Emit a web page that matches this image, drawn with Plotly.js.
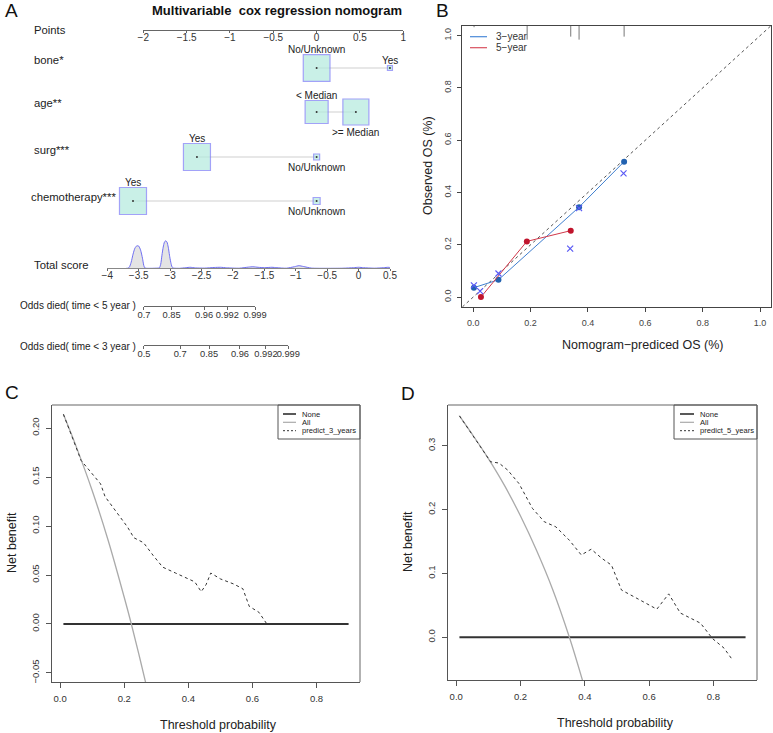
<!DOCTYPE html>
<html><head><meta charset="utf-8">
<script src="https://cdn.plot.ly/plotly-3.0.1.min.js"></script>
<style>html,body{margin:0;padding:0;background:#fff}#chart{width:773px;height:733px}</style>
</head><body><div id="chart"></div>
<script>
// ================= DATA =================
// Panel A: nomogram
const variables = ['bone*', 'age**', 'surg***', 'chemotherapy***'];
const levelNames = [['No/Unknown', 'Yes'], ['< Median', '>= Median'], ['Yes', 'No/Unknown'], ['Yes', 'No/Unknown']];
const levelPoints = [[0, 0.846], [0, 0.453], [-1.381, 0], [-2.119, 0]];
const levelCounts = [[713, 25], [529, 676], [729, 36], [729, 49]];
const levelLabelSide = [['above', 'above'], ['above', 'below'], ['above', 'below'], ['above', 'below']];
const pointsTicks = [-2, -1.5, -1, -0.5, 0, 0.5, 1];
const totalScoreTicks = [-4, -3.5, -3, -2.5, -2, -1.5, -1, -0.5, 0, 0.5];
const densityScore = [-3.70, -3.68, -3.65, -3.62, -3.59, -3.56, -3.53, -3.50, -3.47, -3.44, -3.42, -3.40, -3.30, -3.20,
  -3.17, -3.15, -3.13, -3.11, -3.09, -3.07, -3.05, -3.03, -3.01, -2.99, -2.97, -2.95,
  -2.85, -2.75, -2.68, -2.60, -2.45, -2.30, -2.20, -2.10, -1.90, -1.75, -1.68, -1.60, -1.50, -1.38, -1.30, -1.15,
  -1.02, -0.95, -0.88, -0.75, -0.50, -0.25, -0.08, 0.0, 0.08, 0.25, 0.40, 0.47, 0.52, 0.58];
const densityHeight = [0, 0, 1, 6, 14, 20, 22.3, 22, 18, 10, 3, 0.3, 0, 0.2,
  0.5, 4, 13, 21, 26, 27.3, 26, 21, 13, 6, 1.5, 0.3,
  0, 0.6, 1.0, 0.4, 0.2, 0.8, 1.0, 0.5, 0.1, 1.2, 1.5, 1.0, 0.6, 1.0, 0.6, 0.1,
  1.6, 2.6, 1.8, 0.2, 0, 0.1, 0.6, 1.0, 0.6, 0.1, 0.6, 1.0, 0.6, 0];
const odds5Labels = ['0.7', '0.85', '0.96', '0.992', '0.999'];
const odds5Score = [-3.416, -2.975, -2.460, -2.089, -1.648];
const odds3Labels = ['0.5', '0.7', '0.85', '0.96', '0.992', '0.999'];
const odds3Score = [-3.416, -2.840, -2.380, -1.887, -1.473, -1.118];

// Panel B: calibration
const cal3Pred = [0.0024, 0.088, 0.369, 0.526];
const cal3Obs = [0.036, 0.066, 0.344, 0.518];
const cal5Pred = [0.027, 0.187, 0.340];
const cal5Obs = [0.000, 0.213, 0.254];
const cal3CorrPred = [0.0024, 0.088, 0.369, 0.524];
const cal3CorrObs = [0.045, 0.090, 0.340, 0.473];
const cal5CorrPred = [0.024, 0.338];
const cal5CorrObs = [0.023, 0.185];
const rugPred = [0.003, 0.188, 0.340, 0.369, 0.526];
const rugFreq = [3, 28, 22, 28, 22];
const calTicks = [0, 0.2, 0.4, 0.6, 0.8, 1.0];

// Panel C: DCA 3 years
const thresholdRange = [0.01, 0.9];
const netNone = [0, 0];
const c_allX = [0.01, 0.05, 0.10, 0.15, 0.20, 0.222, 0.25, 0.28];
const c_allY = [0.214, 0.181, 0.136, 0.085, 0.027, 0.0, -0.037, -0.078];
const c_predX = [0.01, 0.03, 0.05, 0.065, 0.08, 0.10, 0.126, 0.14, 0.16, 0.19, 0.21, 0.23, 0.26, 0.29, 0.32, 0.36, 0.40, 0.42, 0.44, 0.455, 0.47, 0.50, 0.54, 0.57, 0.59, 0.62, 0.645];
const c_predY = [0.214, 0.196, 0.180, 0.167, 0.161, 0.154, 0.143, 0.130, 0.121, 0.108, 0.099, 0.088, 0.083, 0.070, 0.058, 0.052, 0.046, 0.043, 0.033, 0.040, 0.052, 0.046, 0.041, 0.036, 0.018, 0.012, 0.0];
const c_yTicks = [-0.05, 0, 0.05, 0.10, 0.15, 0.20];

// Panel D: DCA 5 years
const d_allX = [0.01, 0.05, 0.10, 0.15, 0.20, 0.25, 0.30, 0.352, 0.40];
const d_allY = [0.347, 0.318, 0.280, 0.238, 0.190, 0.136, 0.075, 0.0, -0.080];
const d_predX = [0.01, 0.05, 0.107, 0.133, 0.16, 0.195, 0.237, 0.274, 0.31, 0.352, 0.389, 0.42, 0.452, 0.483, 0.514, 0.562, 0.624, 0.661, 0.697, 0.76, 0.797, 0.833, 0.86];
const d_predY = [0.347, 0.318, 0.275, 0.273, 0.262, 0.241, 0.202, 0.181, 0.173, 0.152, 0.129, 0.138, 0.124, 0.113, 0.074, 0.061, 0.044, 0.068, 0.038, 0.022, -0.002, -0.017, -0.036];
const d_yTicks = [0, 0.1, 0.2, 0.3];
const dcaXTicks = [0, 0.2, 0.4, 0.6, 0.8];

// ================= LAYOUT HELPERS =================
const W = 773, H = 733;
const px = v => v / W;
const py = v => 1 - v / H;
const FONT = 'Liberation Sans, Arial, Helvetica, sans-serif';
const rowY = [68, 112, 157, 201];           // pixel rows of nomogram variables
const rowLabelY = [60, 103, 150, 197];
const rowLabelX = [32, 32, 32, 29];
const scorePx = s => 107.3 + (s + 4) * 62.8; // total-score axis pixel mapping
// points axis: -2 at 143.3px, 1 at 403.3px; the hidden box axis uses the same scale but starts at 100px
const ptsUnit = (403.3 - 143.3) / 3;
const boxRange = [-2 - (143.3 - 100) / ptsUnit, 1];

const traces = [];

// --- Panel A ---
const lx = [], ly = [];
variables.forEach((v, i) => {
  const pts = levelPoints[i];
  lx.push(Math.min(...pts), Math.max(...pts), null);
  ly.push(rowY[i], rowY[i], null);
});
traces.push({x: lx, y: ly, xaxis: 'x8', yaxis: 'y', mode: 'lines', line: {color: '#cfcfcf', width: 1}, hoverinfo: 'skip'});
const bx = [], by = [], bs = [];
variables.forEach((v, i) => levelPoints[i].forEach((p, j) => {
  bx.push(p); by.push(rowY[i]); bs.push(Math.sqrt(levelCounts[i][j]));
}));
traces.push({x: bx, y: by, xaxis: 'x8', yaxis: 'y', mode: 'markers', cliponaxis: false,
  marker: {symbol: 'square', size: bs, color: '#b3eade', line: {color: '#7b7bf6', width: 1.2}}, hoverinfo: 'skip'});
traces.push({x: bx, y: by, xaxis: 'x8', yaxis: 'y', mode: 'markers', cliponaxis: false,
  marker: {size: 2, color: '#333'}, hoverinfo: 'skip'});
traces.push({x: [pointsTicks[0]], y: [-100], xaxis: 'x', yaxis: 'y', mode: 'markers', marker: {opacity: 0}, hoverinfo: 'skip'});
traces.push({x: densityScore, y: densityHeight, xaxis: 'x2', yaxis: 'y2', mode: 'lines', fill: 'tozeroy',
  fillcolor: '#e4e4e4', line: {color: '#6f6ff2', width: 1, shape: 'spline', smoothing: 0.6}, hoverinfo: 'skip'});
traces.push({x: [odds5Score[0]], y: [0], xaxis: 'x3', yaxis: 'y3', mode: 'markers', marker: {opacity: 0}, hoverinfo: 'skip'});
traces.push({x: [odds3Score[0]], y: [0], xaxis: 'x4', yaxis: 'y4', mode: 'markers', marker: {opacity: 0}, hoverinfo: 'skip'});

// --- Panel B ---
const lim = [-0.038, 1.038];
traces.push({x: lim, y: lim, xaxis: 'x5', yaxis: 'y5', mode: 'lines', line: {color: '#555', width: 1, dash: 'dot'}, hoverinfo: 'skip'});
const rx = [], ry = [];
rugPred.forEach((p, i) => { rx.push(p, p, null); ry.push(lim[1], lim[1] - rugFreq[i] * 0.0019, null); });
traces.push({x: rx, y: ry, xaxis: 'x5', yaxis: 'y5', mode: 'lines', line: {color: '#777', width: 1}, hoverinfo: 'skip'});
traces.push({x: cal3Pred, y: cal3Obs, xaxis: 'x5', yaxis: 'y5', mode: 'lines+markers',
  line: {color: '#3f7fcf', width: 1}, marker: {color: '#2262b0', size: 6}, hoverinfo: 'skip'});
traces.push({x: cal5Pred, y: cal5Obs, xaxis: 'x5', yaxis: 'y5', mode: 'lines+markers',
  line: {color: '#d0384a', width: 1}, marker: {color: '#c0142c', size: 6}, hoverinfo: 'skip'});
traces.push({x: cal3CorrPred.concat(cal5CorrPred), y: cal3CorrObs.concat(cal5CorrObs), xaxis: 'x5', yaxis: 'y5', mode: 'markers',
  marker: {symbol: 'x-thin', size: 6, line: {color: '#5a5af5', width: 1.2}}, hoverinfo: 'skip'});

// --- Panel C ---
traces.push({x: thresholdRange, y: netNone, xaxis: 'x6', yaxis: 'y6', mode: 'lines', line: {color: '#333', width: 2.2}, hoverinfo: 'skip'});
traces.push({x: c_allX, y: c_allY, xaxis: 'x6', yaxis: 'y6', mode: 'lines', line: {color: '#aaa', width: 1.3, shape: 'spline'}, hoverinfo: 'skip'});
traces.push({x: c_predX, y: c_predY, xaxis: 'x6', yaxis: 'y6', mode: 'lines', line: {color: '#333', width: 1, dash: '3px,3px'}, hoverinfo: 'skip'});
// --- Panel D ---
traces.push({x: thresholdRange, y: netNone, xaxis: 'x7', yaxis: 'y7', mode: 'lines', line: {color: '#333', width: 2.2}, hoverinfo: 'skip'});
traces.push({x: d_allX, y: d_allY, xaxis: 'x7', yaxis: 'y7', mode: 'lines', line: {color: '#aaa', width: 1.3, shape: 'spline'}, hoverinfo: 'skip'});
traces.push({x: d_predX, y: d_predY, xaxis: 'x7', yaxis: 'y7', mode: 'lines', line: {color: '#333', width: 1, dash: '3px,3px'}, hoverinfo: 'skip'});

// ================= AXES =================
const tickFontA = {family: FONT, size: 10, color: '#333'};
const tickFontOdds = {family: FONT, size: 9.3, color: '#333'};
const baseAx = {showgrid: false, zeroline: false, showline: true, linecolor: '#666', linewidth: 1,
  ticks: 'outside', tickcolor: '#666', tickwidth: 1, fixedrange: true};
const hidden = {visible: false, fixedrange: true};

const layout = {
  width: W, height: H, margin: {l: 0, r: 0, t: 0, b: 0}, paper_bgcolor: '#fff', plot_bgcolor: 'rgba(0,0,0,0)',
  showlegend: false, font: {family: FONT, color: '#222'},
  xaxis: Object.assign({}, baseAx, {domain: [px(143.3), px(403.3)], range: [-2, 1], anchor: 'free', position: py(29.7),
    side: 'bottom', tickvals: pointsTicks, ticklen: 2, tickangle: 0, tickfont: tickFontA, ticklabelstandoff: -4}),
  xaxis8: Object.assign({}, hidden, {domain: [px(100), px(403.3)], range: boxRange, anchor: 'y'}),
  yaxis: Object.assign({}, hidden, {domain: [py(240), 1], range: [240, 0]}),
  xaxis2: Object.assign({}, baseAx, {domain: [px(107.3), px(390)], range: [-4, 0.5], anchor: 'y2',
    tickvals: totalScoreTicks, ticklen: 2, tickangle: 0, tickfont: tickFontA, linecolor: '#888', ticklabelstandoff: -4}),
  yaxis2: Object.assign({}, hidden, {domain: [py(268.3), py(236)], range: [0, 32]}),
  xaxis3: Object.assign({}, baseAx, {domain: [px(scorePx(odds5Score[0])), px(scorePx(odds5Score[odds5Score.length - 1]))],
    range: [odds5Score[0], odds5Score[odds5Score.length - 1]], anchor: 'y3', tickangle: 0,
    tickvals: odds5Score, ticktext: odds5Labels, ticklen: 3, tickfont: tickFontOdds, ticklabelstandoff: -3}),
  yaxis3: Object.assign({}, hidden, {domain: [py(305.7), py(300)], range: [0, 1]}),
  xaxis4: Object.assign({}, baseAx, {domain: [px(scorePx(odds3Score[0])), px(scorePx(odds3Score[odds3Score.length - 1]))],
    range: [odds3Score[0], odds3Score[odds3Score.length - 1]], anchor: 'y4', tickangle: 0,
    tickvals: odds3Score, ticktext: odds3Labels, ticklen: 3, tickfont: tickFontOdds, ticklabelstandoff: -3}),
  yaxis4: Object.assign({}, hidden, {domain: [py(345), py(340)], range: [0, 1]}),
  xaxis5: Object.assign({}, baseAx, {domain: [px(462.3), px(771)], range: lim, anchor: 'y5', mirror: true, linecolor: '#444',
    tickvals: calTicks, tickformat: '.1f', ticklen: 4, tickcolor: '#444', tickfont: {family: FONT, size: 9, color: '#444'}, ticklabelstandoff: 3}),
  yaxis5: Object.assign({}, baseAx, {domain: [py(307), py(25.7)], range: lim, anchor: 'x5', mirror: true, linecolor: '#444',
    tickvals: calTicks, tickformat: '.1f', ticklen: 4, tickcolor: '#444', tickangle: -90, tickfont: {family: FONT, size: 9, color: '#444'}, ticklabelstandoff: 3}),
  xaxis6: Object.assign({}, baseAx, {domain: [px(52), px(360)], range: [-0.0256, 0.9356], anchor: 'y6', linecolor: '#555',
    tickvals: dcaXTicks, tickformat: '.1f', ticklen: 5, tickcolor: '#555', tickfont: {family: FONT, size: 9.5, color: '#333'}, ticklabelstandoff: 3}),
  yaxis6: Object.assign({}, baseAx, {domain: [py(682), py(405)], range: [-0.0592, 0.2235], anchor: 'x6', linecolor: '#555',
    tickvals: c_yTicks, tickformat: '.2f', ticklen: 5, tickcolor: '#555', tickangle: -90, tickfont: {family: FONT, size: 9.5, color: '#333'}, ticklabelstandoff: 3}),
  xaxis7: Object.assign({}, baseAx, {domain: [px(448), px(757)], range: [-0.0256, 0.9356], anchor: 'y7', linecolor: '#555',
    tickvals: dcaXTicks, tickformat: '.1f', ticklen: 5, tickcolor: '#555', tickfont: {family: FONT, size: 9.5, color: '#333'}, ticklabelstandoff: 3}),
  yaxis7: Object.assign({}, baseAx, {domain: [py(680), py(405)], range: [-0.067, 0.364], anchor: 'x7', linecolor: '#555',
    tickvals: d_yTicks, tickformat: '.1f', ticklen: 5, tickcolor: '#555', tickangle: -90, tickfont: {family: FONT, size: 9.5, color: '#333'}, ticklabelstandoff: 3}),
  annotations: [], shapes: []
};

const ann = (text, x, y, opts) => layout.annotations.push(Object.assign({
  text, x: px(x), y: py(y), xref: 'paper', yref: 'paper', showarrow: false, xanchor: 'left', yanchor: 'middle',
  font: {family: FONT, size: 11.3, color: '#222'}}, opts || {}));

// panel letters
ann('A', 3, 11, {font: {family: FONT, size: 19, color: '#111'}});
ann('B', 434, 11, {font: {family: FONT, size: 19, color: '#111'}});
ann('C', 3, 392, {font: {family: FONT, size: 19, color: '#111'}});
ann('D', 399, 393, {font: {family: FONT, size: 19, color: '#111'}});

// Panel A texts
ann('<b>Multivariable\u00a0 cox regression nomogram</b>', 276.5, 11, {xanchor: 'center', font: {family: FONT, size: 13, color: '#111'}});
ann('Points', 32, 30);
variables.forEach((v, i) => ann(v, rowLabelX[i], rowLabelY[i]));
ann('Total score', 32, 265);
ann('Odds died( time < 5 year )', 18, 305, {font: {family: FONT, size: 10, color: '#222'}});
ann('Odds died( time < 3 year )', 18, 346, {font: {family: FONT, size: 10, color: '#222'}});
variables.forEach((v, i) => levelNames[i].forEach((name, j) => {
  const half = Math.sqrt(levelCounts[i][j]) / 2;
  const above = levelLabelSide[i][j] === 'above';
  layout.annotations.push({text: name, x: levelPoints[i][j], y: rowY[i] + (above ? -(half + 5) : (half + 7)),
    xref: 'x8', yref: 'y', showarrow: false, xanchor: 'center', yanchor: 'middle',
    font: {family: FONT, size: 10, color: '#222'}});
}));

// Panel B texts
ann('Observed OS (%)', 428, 166, {xanchor: 'center', textangle: -90, font: {family: FONT, size: 12.5, color: '#222'}});
ann('Nomogram\u2212prediced OS (%)', 643, 345, {xanchor: 'center', font: {family: FONT, size: 12.5, color: '#222'}});
const legLine = (x0, x1, y, color, width, dash) => layout.shapes.push({type: 'line', xref: 'paper', yref: 'paper',
  x0: px(x0), x1: px(x1), y0: py(y), y1: py(y), line: {color, width, dash: dash || 'solid'}});
legLine(470, 487, 36.7, '#4a8ad8', 1.2);
legLine(470, 487, 47.7, '#d8505e', 1.2);
ann('3\u2212year', 494, 36.7, {font: {family: FONT, size: 10, color: '#333'}});
ann('5\u2212year', 494, 47.7, {font: {family: FONT, size: 10, color: '#333'}});

// Panel C/D texts
ann('Net benefit', 12, 543, {xanchor: 'center', textangle: -90, font: {family: FONT, size: 12.5, color: '#222'}});
ann('Threshold probability', 218, 725, {xanchor: 'center', font: {family: FONT, size: 12.5, color: '#222'}});
ann('Net benefit', 408, 542, {xanchor: 'center', textangle: -90, font: {family: FONT, size: 12.5, color: '#222'}});
ann('Threshold probability', 615, 723, {xanchor: 'center', font: {family: FONT, size: 12.5, color: '#222'}});

// top/right frame of C and D
const frame = (x0, x1, y0, y1) => {
  layout.shapes.push({type: 'line', xref: 'paper', yref: 'paper', x0: px(x0), x1: px(x1), y0: py(y0), y1: py(y0), line: {color: '#999', width: 1.5}});
  layout.shapes.push({type: 'line', xref: 'paper', yref: 'paper', x0: px(x1), x1: px(x1), y0: py(y0), y1: py(y1), line: {color: '#999', width: 1.5}});
};
frame(52, 360, 405, 682);
frame(448, 757, 405, 680);

// DCA legends
const dcaLegend = (bx0, bx1, lineX0, lineX1, textX, label) => {
  layout.shapes.push({type: 'rect', xref: 'paper', yref: 'paper', x0: px(bx0), x1: px(bx1), y0: py(439), y1: py(405),
    line: {color: '#555', width: 1}, fillcolor: 'rgba(255,255,255,0)'});
  legLine(lineX0, lineX1, 414, '#222', 1.5);
  legLine(lineX0, lineX1, 422.3, '#aaa', 1.2);
  legLine(lineX0, lineX1, 430.7, '#333', 1, '2px,2px');
  const f = {family: FONT, size: 7.6, color: '#222'};
  ann('None', textX, 414, {font: f});
  ann('All', textX, 422.3, {font: f});
  ann(label, textX, 430.7, {font: f});
};
dcaLegend(278, 360, 283, 296, 300, 'predict_3_years');
dcaLegend(674, 757, 680, 694, 698, 'predict_5_years');

Plotly.newPlot('chart', traces, layout, {staticPlot: true, displayModeBar: false});
</script></body></html>
